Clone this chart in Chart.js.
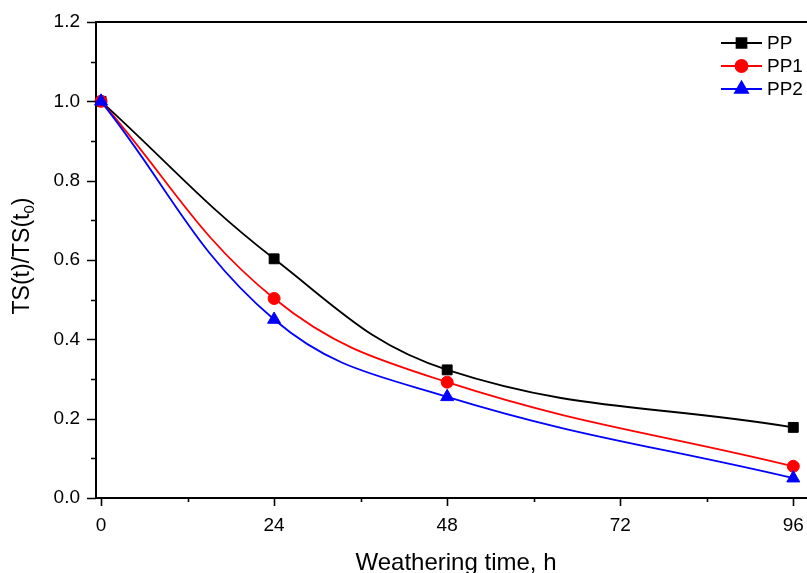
<!DOCTYPE html>
<html lang="en">
<head>
    <meta charset="UTF-8">
    <title>TS(t)/TS(t0) vs weathering time</title>
    <script src="https://cdn.jsdelivr.net/npm/chart.js"></script>
    <style>
body {
    margin: 0;
    padding: 0;
    background: #ffffff;
}
#wrap {
    width: 807px;
    height: 573px;
}
    </style>
</head>
<body>
    <div id="wrap">
        <canvas id="tsChart" width="807" height="573"></canvas>
    </div>

    <script>
        // data
        const hours = [0, 24, 48, 96];
        const ppValues = [1.0, 0.603, 0.323, 0.178];
        const pp1Values = [1.0, 0.503, 0.292, 0.080];
        const pp2Values = [1.0, 0.450, 0.255, 0.050];
        const seriesNames = ["PP", "PP1", "PP2"];

        const xTickValues = [0, 24, 48, 72, 96];
        const xMinorValues = [12, 36, 60, 84];
        const yTickValues = [0, 0.2, 0.4, 0.6, 0.8, 1.0, 1.2];
        const yMinorValues = [0.1, 0.3, 0.5, 0.7, 0.9, 1.1];

        const xTitle = "Weathering time, h";
        const fontFamily = "'Liberation Sans', Arial, sans-serif";

        function toPoints(values) {
            return hours.map((h, i) => ({ x: h, y: values[i] }));
        }

        // ticks, top frame, axis titles and legend
        const decorations = {
            id: "decorations",
            afterDraw(chart) {
                const ctx = chart.ctx;
                const area = chart.chartArea;
                const xs = chart.scales.x;
                const ys = chart.scales.y;
                ctx.save();
                ctx.strokeStyle = "#000";
                ctx.lineWidth = 2;

                // frame top
                ctx.beginPath();
                ctx.moveTo(area.left - 1, area.top);
                ctx.lineTo(area.right, area.top);
                ctx.stroke();

                ctx.lineWidth = 1.6;
                ctx.beginPath();
                xTickValues.forEach(v => {
                    const px = Math.round(xs.getPixelForValue(v)) + 0.5;
                    ctx.moveTo(px, area.bottom);
                    ctx.lineTo(px, area.bottom + 8);
                });
                xMinorValues.forEach(v => {
                    const px = Math.round(xs.getPixelForValue(v)) + 0.5;
                    ctx.moveTo(px, area.bottom);
                    ctx.lineTo(px, area.bottom + 4);
                });
                yTickValues.forEach(v => {
                    const py = Math.round(ys.getPixelForValue(v)) + 0.5;
                    ctx.moveTo(area.left, py);
                    ctx.lineTo(area.left - 9, py);
                });
                yMinorValues.forEach(v => {
                    const py = Math.round(ys.getPixelForValue(v)) + 0.5;
                    ctx.moveTo(area.left, py);
                    ctx.lineTo(area.left - 5, py);
                });
                ctx.stroke();

                // axis titles
                ctx.fillStyle = "#000";
                ctx.font = "24px " + fontFamily;
                ctx.textAlign = "center";
                ctx.textBaseline = "alphabetic";
                ctx.fillText(xTitle, 456, 570);

                ctx.save();
                ctx.translate(29, 256);
                ctx.rotate(-Math.PI / 2);
                const big = "23px " + fontFamily;
                const small = "15px " + fontFamily;
                const partA = "TS(t)/TS(t";
                const partB = "0";
                const partC = ")";
                ctx.font = big;
                const wA = ctx.measureText(partA).width;
                const wC = ctx.measureText(partC).width;
                ctx.font = small;
                const wB = ctx.measureText(partB).width;
                const x0 = -(wA + wB + wC) / 2;
                ctx.textAlign = "left";
                ctx.font = big;
                ctx.fillText(partA, x0, 0);
                ctx.font = small;
                ctx.fillText(partB, x0 + wA, 5);
                ctx.font = big;
                ctx.fillText(partC, x0 + wA + wB, 0);
                ctx.restore();

                // legend
                const rowY = [43, 66, 89];
                chart.data.datasets.forEach((ds, i) => {
                    const y = rowY[i];
                    ctx.strokeStyle = ds.borderColor;
                    ctx.fillStyle = ds.backgroundColor;
                    ctx.lineWidth = 1.8;
                    ctx.beginPath();
                    ctx.moveTo(721, y);
                    ctx.lineTo(762, y);
                    ctx.stroke();
                    Chart.helpers.drawPoint(ctx, {
                        pointStyle: ds.pointStyle,
                        radius: ds.pointRadius,
                        rotation: 0,
                        borderWidth: 1
                    }, 741.5, y);
                    ctx.fillStyle = "#000";
                    ctx.font = "19px " + fontFamily;
                    ctx.textAlign = "left";
                    ctx.textBaseline = "middle";
                    ctx.fillText(ds.label, 767, y + 1);
                });
                ctx.restore();
            }
        };

        const lineBase = {
            borderWidth: 1.8,
            tension: 0.4,
            clip: false,
            pointBorderWidth: 1
        };

        new Chart(document.getElementById("tsChart").getContext("2d"), {
            type: "line",
            data: {
                datasets: [
                    Object.assign({}, lineBase, {
                        label: seriesNames[0], data: toPoints(ppValues),
                        borderColor: "#000000", backgroundColor: "#000000",
                        pointStyle: "rect", pointRadius: 7, order: 3
                    }),
                    Object.assign({}, lineBase, {
                        label: seriesNames[1], data: toPoints(pp1Values),
                        borderColor: "#ff0000", backgroundColor: "#ff0000",
                        pointStyle: "circle", pointRadius: 6, order: 2
                    }),
                    Object.assign({}, lineBase, {
                        label: seriesNames[2], data: toPoints(pp2Values),
                        borderColor: "#0000ff", backgroundColor: "#0000ff",
                        pointStyle: "triangle", pointRadius: 7.5, order: 1
                    })
                ]
            },
            options: {
                responsive: false,
                animation: false,
                layout: {
                    autoPadding: false,
                    padding: { top: 22, right: 0, bottom: 0, left: 0 }
                },
                plugins: {
                    legend: { display: false },
                    tooltip: { enabled: false }
                },
                scales: {
                    x: {
                        type: "linear",
                        min: -0.7,
                        max: 97.9,
                        grid: { display: false, drawTicks: false },
                        border: { display: true, color: "#000", width: 2 },
                        afterBuildTicks: scale => { scale.ticks = xTickValues.map(v => ({ value: v })); },
                        afterFit: scale => {
                            scale.height = 75;
                            scale.paddingLeft = 0;
                            scale.paddingRight = 0;
                        },
                        ticks: {
                            padding: 16,
                            color: "#000",
                            maxRotation: 0,
                            font: { family: fontFamily, size: 19 },
                            callback: v => String(v)
                        }
                    },
                    y: {
                        type: "linear",
                        min: 0,
                        max: 1.2,
                        grid: { display: false, drawTicks: false },
                        border: { display: true, color: "#000", width: 2 },
                        afterBuildTicks: scale => { scale.ticks = yTickValues.map(v => ({ value: v })); },
                        afterFit: scale => {
                            scale.width = 96;
                            scale.paddingTop = 0;
                            scale.paddingBottom = 0;
                        },
                        ticks: {
                            padding: 16,
                            color: "#000",
                            font: { family: fontFamily, size: 19 },
                            callback: v => v.toFixed(1)
                        }
                    }
                }
            },
            plugins: [decorations]
        });
    </script>
</body>
</html>
